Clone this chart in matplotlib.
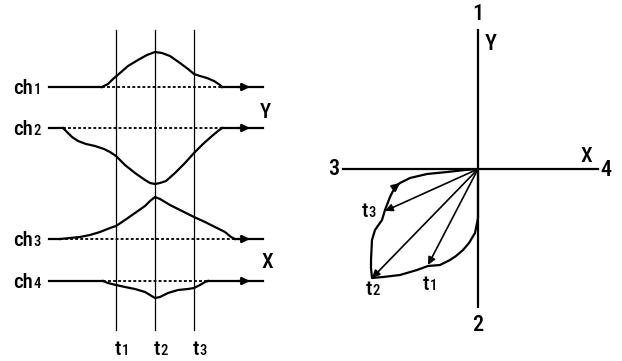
import matplotlib.pyplot as plt
from matplotlib import font_manager

# narrow face for the labels, whichever is present
_avail = {f.name for f in font_manager.fontManager.ttflist}
_narrow = [n for n in ['Roboto Condensed', 'Liberation Sans Narrow', 'Open Sans Condensed',
                       'Arial Narrow'] if n in _avail]
plt.rcParams['font.family'] = _narrow + ['DejaVu Sans']
plt.rcParams['font.stretch'] = 'condensed'

# --- channel traces (time axis in sample units, signal drawn downward) ---
t_marks = [116, 155, 194]
t_names = ["1", "2", "3"]

ch_names = ["1", "2", "3", "4"]
ch_base = [87, 128, 239, 281]
ch_start = [49, 49, 49, 49]
ch_end = 263

ch1_t = [102, 108, 113, 120, 128, 138, 147, 155, 162, 170, 180, 188, 194, 200, 207, 214, 220, 222]
ch1_v = [87, 84, 79, 73, 66, 60, 55, 52, 53, 56, 63, 69, 74, 76, 78, 81, 85, 87]

ch2_t = [63, 67, 72, 78, 86, 95, 104, 110, 116, 125, 135, 145, 150, 155, 160, 166, 175, 185, 194, 203, 212, 218, 222]
ch2_v = [128, 132, 137, 141, 144, 146, 149, 152, 156, 165, 173, 180, 183, 184, 183, 181, 173, 163, 153, 144, 136, 131, 128]

ch3_t = [60, 70, 80, 90, 100, 110, 116, 125, 135, 145, 150, 155, 160, 170, 180, 194, 205, 215, 225, 231, 235]
ch3_v = [239, 238, 237, 235, 232, 228, 226, 220, 213, 206, 201, 197, 199, 205, 210, 217, 222, 227, 232, 237, 239]

ch4_t = [103, 108, 112, 116, 125, 135, 145, 150, 155, 160, 168, 178, 188, 194, 200, 205, 208]
ch4_v = [281, 283, 284, 285, 287, 289, 292, 295, 298, 297, 293, 290, 289, 288, 285, 282, 281]

ch_curves = [(ch1_t, ch1_v), (ch2_t, ch2_v), (ch3_t, ch3_v), (ch4_t, ch4_v)]

# --- X/Y vector plot (origin at 0,0) ---
loop_x = [0, 0, 0, 0, -3, -9, -15, -22, -28, -38, -50, -61, -78, -95, -106,
          -107, -107, -106, -103, -96, -93, -88, -83, -78, -68, -51, -31, -13, 0]
loop_y = [0, -21, -36, -49, -64, -74, -81, -87, -91, -96, -97, -101, -106, -108, -109,
          -99, -91, -71, -61, -51, -41, -28, -18, -14, -9, -5, -3, -1, 0]
vec_x = [-50, -106, -93]
vec_y = [-96, -109, -42]
vec_names = ["1", "2", "3"]

fig = plt.figure(figsize=(6.22, 3.61), dpi=100)
ax1 = fig.add_axes([0, 0, 311 / 622, 1])
ax2 = fig.add_axes([311 / 622, 0, 311 / 622, 1])
for ax in (ax1, ax2):
    ax.set_axis_off()

ax1.set_xlim(0, 311)
ax1.set_ylim(361, 0)
ax2.set_xlim(-167, 144)
ax2.set_ylim(-192, 169)

lw = 1.6
head = '-|>,head_length=0.45,head_width=0.22'
arrow_kw = dict(arrowstyle=head, color='black', lw=lw, shrinkA=0, shrinkB=0)


def sub_label(ax, x, y, base, idx, size=15, sub=10.5):
    # base letters right-aligned at x, small index digit starting at x
    ax.text(x, y, base, fontsize=size, ha='right', va='baseline', fontweight='medium')
    ax.text(x + 0.8, y, idx, fontsize=sub, ha='left', va='baseline', fontweight='medium')


def label(ax, x, y, s, size=15):
    ax.text(x, y, s, fontsize=size, ha='center', va='center', fontweight='medium')


# time markers
for tx, name in zip(t_marks, t_names):
    ax1.plot([tx, tx], [30, 330], color='black', lw=0.9)
    sub_label(ax1, tx + 5, 355, "t", name)

# channels
for name, base, start, (ts, vs) in zip(ch_names, ch_base, ch_start, ch_curves):
    ax1.plot([start, ts[0]], [base, base], color='black', lw=lw)
    ax1.plot(ts, vs, color='black', lw=lw)
    ax1.plot([ts[0], ts[-1]], [base, base], color='black', lw=1.3, ls=(0, (1.6, 1.2)))
    ax1.plot([ts[-1], ch_end], [base, base], color='black', lw=lw)
    ax1.annotate('', xy=(250, base), xytext=(238, base), arrowprops=arrow_kw)
    sub_label(ax1, 33, base + 7, "ch", name)

label(ax1, 265, 112, "Y")
label(ax1, 267, 263, "X")

# axes of the vector plot
ax2.plot([-135, 120], [0, 0], color='black', lw=lw)
ax2.plot([0, 0], [-138, 139], color='black', lw=lw)
label(ax2, 0, 155, "1", 16)
label(ax2, 0, -156, "2", 16)
label(ax2, -144, 0, "3", 16)
label(ax2, 128, -1, "4", 16)
label(ax2, 108, 12, "X")
label(ax2, 13, 125, "Y", 16)

# locus and sampled vectors
ax2.plot(loop_x, loop_y, color='black', lw=lw)
ax2.annotate('', xy=(loop_x[23], loop_y[23]), xytext=(loop_x[22], loop_y[22]), arrowprops=arrow_kw)
for vx, vy in zip(vec_x, vec_y):
    ax2.annotate('', xy=(vx, vy), xytext=(0, 0),
                 arrowprops=dict(arrowstyle=head, color='black', lw=1.2, shrinkA=0, shrinkB=0))

sub_label(ax2, -110, -48, "t", vec_names[2])
sub_label(ax2, -106, -126, "t", vec_names[1])
sub_label(ax2, -49, -121, "t", vec_names[0])

fig.savefig("out.png", dpi=100)
